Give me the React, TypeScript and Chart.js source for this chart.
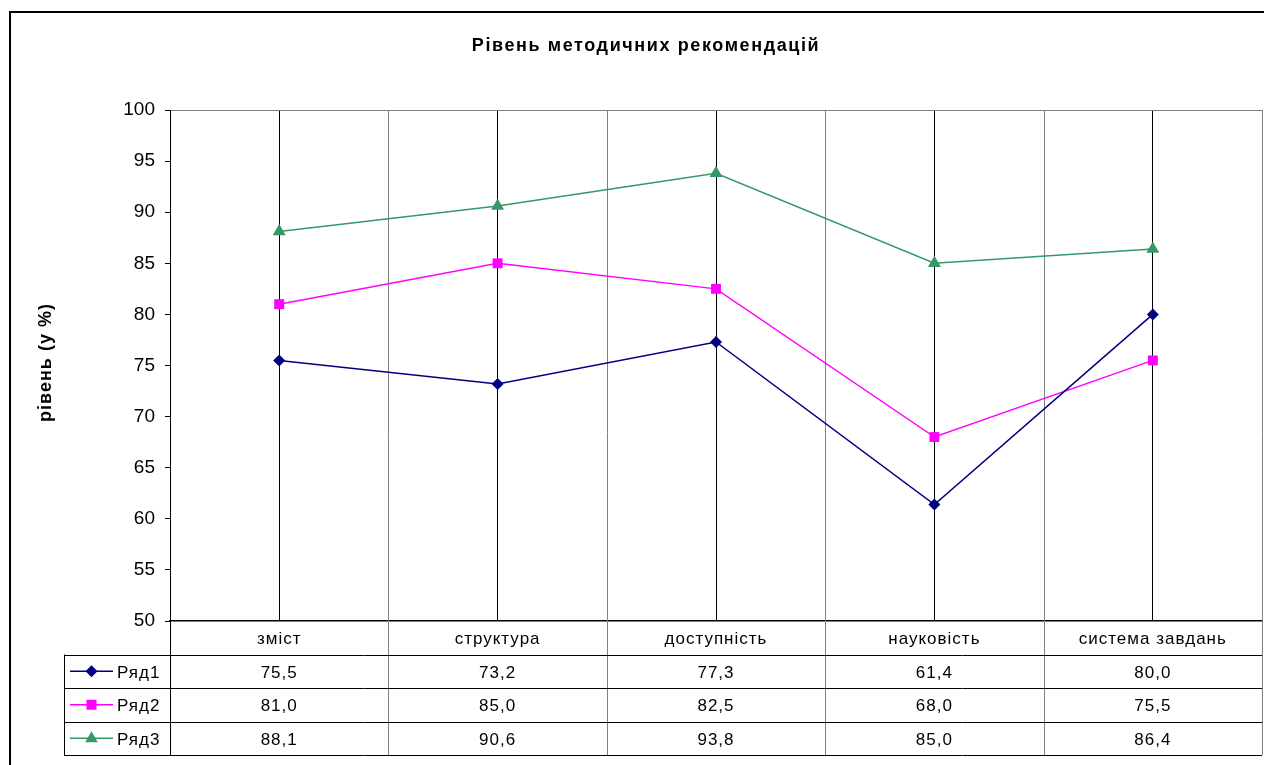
import React, { useEffect, useRef } from "react";
import { Chart, registerables } from "chart.js";
Chart.register(...registerables);

const categories = ["зміст", "структура", "доступність", "науковість", "система завдань"];
const seriesNames = ["Ряд1", "Ряд2", "Ряд3"];
const series1 = [75.5, 73.2, 77.3, 61.4, 80.0];
const series2 = [81.0, 85.0, 82.5, 68.0, 75.5];
const series3 = [88.1, 90.6, 93.8, 85.0, 86.4];
const seriesColors = ["#000080", "#FF00FF", "#339966"];
const seriesMarkers = ["rectRot", "rect", "triangle"];
const seriesRadius = [6, 7, 7.5];
const yMin = 50;
const yMax = 100;
const yStep = 5;
const chartTitle = "Рівень методичних рекомендацій";
const yTitle = "рівень (у %)";

const FONT = "'Liberation Sans', Arial, sans-serif";
const W = 1264;
const H = 765;
const ROW_H = 33.5;
const TABLE_LEFT = 64;

const fmt = (v: number) => v.toFixed(1).replace(".", ",");

const px = (v: number) => Math.round(v) + 0.5;

function drawMarker(ctx: CanvasRenderingContext2D, style: string, x: number, y: number, color: string) {
  ctx.fillStyle = color;
  ctx.beginPath();
  if (style === "rectRot") {
    ctx.moveTo(x, y - 6);
    ctx.lineTo(x + 6, y);
    ctx.lineTo(x, y + 6);
    ctx.lineTo(x - 6, y);
  } else if (style === "rect") {
    ctx.rect(x - 5, y - 5, 10, 10);
  } else {
    ctx.moveTo(x, y - 7);
    ctx.lineTo(x + 6.3, y + 4);
    ctx.lineTo(x - 6.3, y + 4);
  }
  ctx.closePath();
  ctx.fill();
}

const tablePlugin = {
  id: "dataTable",
  beforeDatasetsDraw(chart: any) {
    const ctx: any = chart.ctx;
    const { left, right, top, bottom } = chart.chartArea;
    const xs = chart.scales.x;
    const centers = categories.map((_, i) => xs.getPixelForValue(i));
    const bounds = [left, ...centers.slice(0, -1).map((c: number, i: number) => (c + centers[i + 1]) / 2), right];
    const tableBottom = bottom + ROW_H * 4;
    const allSeries = [series1, series2, series3];
    ctx.save();
    ctx.lineWidth = 1;

    // gray boundary lines and plot top border
    ctx.strokeStyle = "#808080";
    ctx.beginPath();
    for (let i = 1; i < bounds.length; i++) {
      ctx.moveTo(px(bounds[i]), top);
      ctx.lineTo(px(bounds[i]), tableBottom);
    }
    ctx.moveTo(left, px(top));
    ctx.lineTo(right, px(top));
    ctx.stroke();

    // black table lines
    ctx.strokeStyle = "#000";
    ctx.beginPath();
    ctx.moveTo(px(left), top);
    ctx.lineTo(px(left), tableBottom);
    for (let k = 1; k <= 4; k++) {
      const y = px(bottom + ROW_H * k);
      ctx.moveTo(TABLE_LEFT, y);
      ctx.lineTo(right, y);
    }
    ctx.moveTo(px(TABLE_LEFT), bottom + ROW_H);
    ctx.lineTo(px(TABLE_LEFT), tableBottom);
    ctx.stroke();

    // texts
    ctx.fillStyle = "#000";
    ctx.font = `17px ${FONT}`;
    ctx.letterSpacing = "1px";
    ctx.textAlign = "center";
    ctx.textBaseline = "middle";
    categories.forEach((c, i) => ctx.fillText(c, centers[i], bottom + ROW_H / 2 + 2));
    allSeries.forEach((s, r) => {
      const yc = bottom + ROW_H * (r + 1.5) + 2;
      s.forEach((v, i) => ctx.fillText(fmt(v), centers[i], yc));
    });

    // legend keys
    seriesNames.forEach((name, r) => {
      const yc = bottom + ROW_H * (r + 1.5);
      ctx.strokeStyle = seriesColors[r];
      ctx.lineWidth = 1.5;
      ctx.beginPath();
      ctx.moveTo(70, yc);
      ctx.lineTo(113, yc);
      ctx.stroke();
      drawMarker(ctx, seriesMarkers[r], 91.5, yc, seriesColors[r]);
      ctx.fillStyle = "#000";
      ctx.textAlign = "left";
      ctx.fillText(name, 117, yc + 2);
    });

    // titles
    ctx.font = `bold 18px ${FONT}`;
    ctx.letterSpacing = "1.6px";
    ctx.textAlign = "center";
    ctx.fillText(chartTitle, 646, 46);
    ctx.letterSpacing = "1px";
    ctx.save();
    ctx.translate(46, (top + bottom) / 2 - 3);
    ctx.rotate(-Math.PI / 2);
    ctx.fillText(yTitle, 0, 0);
    ctx.restore();
    ctx.letterSpacing = "0px";

    // outer frame
    ctx.strokeStyle = "#000";
    ctx.lineWidth = 2;
    ctx.beginPath();
    ctx.moveTo(10, H);
    ctx.lineTo(10, 12);
    ctx.lineTo(W, 12);
    ctx.stroke();
    ctx.restore();
  },
};

export default function App() {
  const ref = useRef<HTMLCanvasElement | null>(null);
  useEffect(() => {
    if (!ref.current) return;
    const chart = new Chart(ref.current, {
      type: "line",
      data: {
        labels: categories,
        datasets: [series1, series2, series3].map((d, i) => ({
          label: seriesNames[i],
          data: d,
          borderColor: seriesColors[i],
          backgroundColor: seriesColors[i],
          borderWidth: 1.5,
          pointStyle: seriesMarkers[i] as any,
          pointRadius: seriesRadius[i],
          pointBorderWidth: 0,
          tension: 0,
        })),
      },
      options: {
        responsive: false,
        animation: false,
        layout: { autoPadding: false, padding: { left: 0, right: 2, top: 110, bottom: 0 } },
        plugins: {
          legend: { display: false },
          title: { display: false },
          tooltip: { enabled: false },
        },
        scales: {
          x: {
            type: "category",
            offset: true,
            grid: { offset: false, color: "#000", drawTicks: false, lineWidth: 1 },
            border: { color: "#000", width: 1.5 },
            ticks: { display: false },
            afterFit: (s: any) => {
              s.height = 144;
            },
          },
          y: {
            min: yMin,
            max: yMax,
            ticks: { stepSize: yStep, color: "#000", font: { family: FONT, size: 19 }, padding: 10 },
            grid: { drawOnChartArea: false, drawTicks: true, tickLength: 5, color: "#000" },
            border: { color: "#000", width: 1 },
            afterFit: (s: any) => {
              s.width = 170;
            },
          },
        },
      },
      plugins: [tablePlugin],
    });
    return () => chart.destroy();
  }, []);
  return (
    <div style={{ position: "absolute", left: 0, top: 0, width: W, height: H, background: "#fff" }}>
      <canvas ref={ref} width={W} height={H} />
    </div>
  );
}
